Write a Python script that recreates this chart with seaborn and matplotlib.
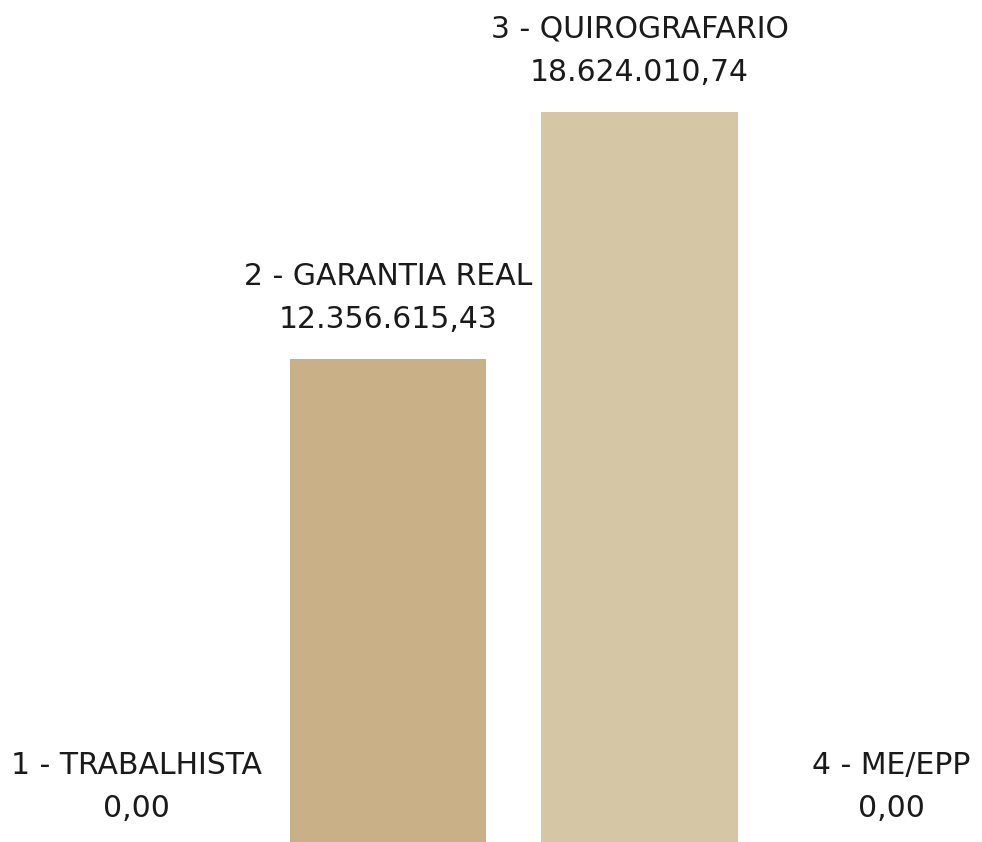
import matplotlib
matplotlib.use("Agg")
import matplotlib.pyplot as plt
import pandas as pd
import seaborn as sns

# credit classes and their totals
classes = ["1 - TRABALHISTA", "2 - GARANTIA REAL", "3 - QUIROGRAFARIO", "4 - ME/EPP"]
totals = [0.00, 12356615.43, 18624010.74, 0.00]
bar_colors = ["#BFA67A", "#C9B087", "#D5C6A6", "#DCCFB4"]


def brl(v):
    # 12,356,615.43 -> 12.356.615,43
    s = f"{v:,.2f}"
    return s.replace(",", "X").replace(".", ",").replace("X", ".")


df = pd.DataFrame({"classe": classes, "total": totals})

sns.set_theme(style="white")
plt.rcParams["font.family"] = ["DejaVu Sans"]

fig = plt.figure(figsize=(9.82, 8.42), dpi=100)
ax = fig.add_axes([0, 0, 1, 1])

sns.barplot(data=df, x="classe", y="total", hue="classe", palette=bar_colors,
            width=0.78, legend=False, saturation=1, linewidth=0, ax=ax)

ax.set_xlim(-0.543, 3.362)
ax.set_ylim(0.15e6, 21.45e6)
ax.axis("off")

for i, (name, v) in enumerate(zip(classes, totals)):
    ax.annotate(brl(v), xy=(i, v), xytext=(0, 31), textcoords="offset pixels",
                ha="center", va="baseline", fontsize=21.5, color="#1a1a1a",
                annotation_clip=False)
    ax.annotate(name, xy=(i, v), xytext=(0, 74), textcoords="offset pixels",
                ha="center", va="baseline", fontsize=21.5, color="#1a1a1a",
                annotation_clip=False)

fig.savefig("out.png", dpi=100)
